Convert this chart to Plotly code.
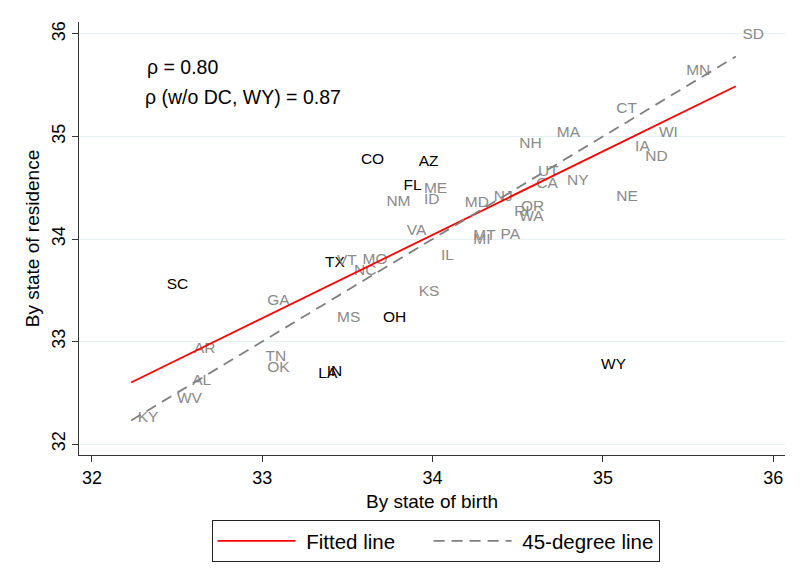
import plotly.graph_objects as go

# ---- data ----
states = ["SD", "MN", "CT", "WI", "IA", "ND", "NE", "MA", "NH", "UT", "CA", "NY",
          "NJ", "MD", "OR", "RI", "WA", "PA", "MT", "MI", "CO", "AZ", "FL", "ME",
          "NM", "ID", "VA", "IL", "TX", "VT", "MO", "NC", "KS", "MS", "OH", "SC",
          "GA", "AR", "TN", "OK", "AL", "WV", "KY", "LA", "IN", "WY"]
by_birth = [35.78, 35.45, 35.04, 35.29, 35.15, 35.21, 35.04, 34.69, 34.47, 34.58, 34.57, 34.75,
            34.32, 34.15, 34.48, 34.44, 34.47, 34.36, 34.20, 34.20, 33.54, 33.88, 33.79, 33.91,
            33.69, 33.91, 33.81, 34.01, 33.33, 33.40, 33.55, 33.50, 33.88, 33.40, 33.67, 32.40,
            32.99, 32.56, 32.98, 32.99, 32.55, 32.46, 32.23, 33.29, 33.34, 34.95]
by_residence = [35.99, 35.64, 35.27, 35.03, 34.90, 34.80, 34.41, 35.03, 34.93, 34.65, 34.54, 34.56,
                34.41, 34.35, 34.31, 34.26, 34.21, 34.04, 34.03, 33.99, 34.77, 34.75, 34.52, 34.49,
                34.36, 34.38, 34.08, 33.83, 33.76, 33.78, 33.79, 33.69, 33.48, 33.23, 33.23, 33.55,
                33.39, 32.93, 32.85, 32.74, 32.61, 32.44, 32.25, 32.68, 32.70, 32.77]
black_states = ["CO", "AZ", "FL", "TX", "SC", "OH", "LA", "IN", "WY"]

fit_x = [32.23, 35.78]
fit_y = [32.60, 35.49]

x_ticks = [32, 33, 34, 35, 36]
y_ticks = [32, 33, 34, 35, 36]

rho_text = ["ρ = 0.80", "ρ (w/o DC, WY) = 0.87"]
rho_x = [32.31, 32.30]
rho_y = [35.68, 35.385]

FONT = "Liberation Sans, Arial, sans-serif"
GRAY = "#8a8a8a"
NB = "\u00a0"

label_colors = ["#000000" if s in black_states else GRAY for s in states]

fig = go.Figure()

fig.add_trace(go.Scatter(
    x=by_birth, y=by_residence, text=states,
    mode="markers+text", textposition="middle right",
    marker=dict(size=9, color="rgba(0,0,0,0)"),
    textfont=dict(family=FONT, size=15.5, color=label_colors),
    showlegend=False, hoverinfo="text"))

fig.add_trace(go.Scatter(
    x=fit_x, y=fit_y, mode="lines", name=NB + "Fitted line" + NB * 5,
    line=dict(color="#ff0000", width=1.8)))

d45 = [min(by_birth), max(by_birth)]
fig.add_trace(go.Scatter(
    x=d45, y=d45, mode="lines", name=NB + "45-degree line",
    line=dict(color="#7f7f7f", width=1.8, dash="11px,7px")))

for t, xx, yy in zip(rho_text, rho_x, rho_y):
    fig.add_annotation(x=xx, y=yy, text=t, showarrow=False,
                       xanchor="left", yanchor="middle",
                       font=dict(family=FONT, size=19.5, color="#000000"))

fig.update_layout(
    width=805, height=586,
    margin=dict(l=79, r=20, t=22, b=131),
    paper_bgcolor="white", plot_bgcolor="white",
    font=dict(family=FONT, color="#000000"),
    legend=dict(orientation="h", x=0.505, xanchor="center", y=-0.15, yanchor="top",
                bordercolor="#222222", borderwidth=1, bgcolor="white",
                font=dict(family=FONT, size=20.5, color="#000000"),
                itemwidth=78),
)

fig.update_xaxes(
    range=[31.924, 36.069], tickvals=x_ticks, ticktext=[str(v) for v in x_ticks],
    showgrid=False, zeroline=False, showline=True, linecolor="#333333", linewidth=1.3,
    ticks="outside", ticklen=6, tickcolor="#333333", tickwidth=1.3,
    tickfont=dict(family=FONT, size=18, color="#000000"),
    title=dict(text="By state of birth", font=dict(family=FONT, size=19, color="#000000"), standoff=7))

fig.update_yaxes(
    range=[31.893, 36.117], tickvals=y_ticks, ticktext=[str(v) for v in y_ticks],
    showgrid=True, gridcolor="#e6eff1", gridwidth=1.3, zeroline=False,
    showline=True, linecolor="#333333", linewidth=1.3,
    ticks="outside", ticklen=6, tickcolor="#333333", tickwidth=1.3, tickangle=-90,
    tickfont=dict(family=FONT, size=18, color="#000000"),
    title=dict(text="By state of residence", font=dict(family=FONT, size=19, color="#000000"), standoff=4))

fig.write_html("out.html", config={"displayModeBar": False},
               post_script="document.body.style.margin='0';")
